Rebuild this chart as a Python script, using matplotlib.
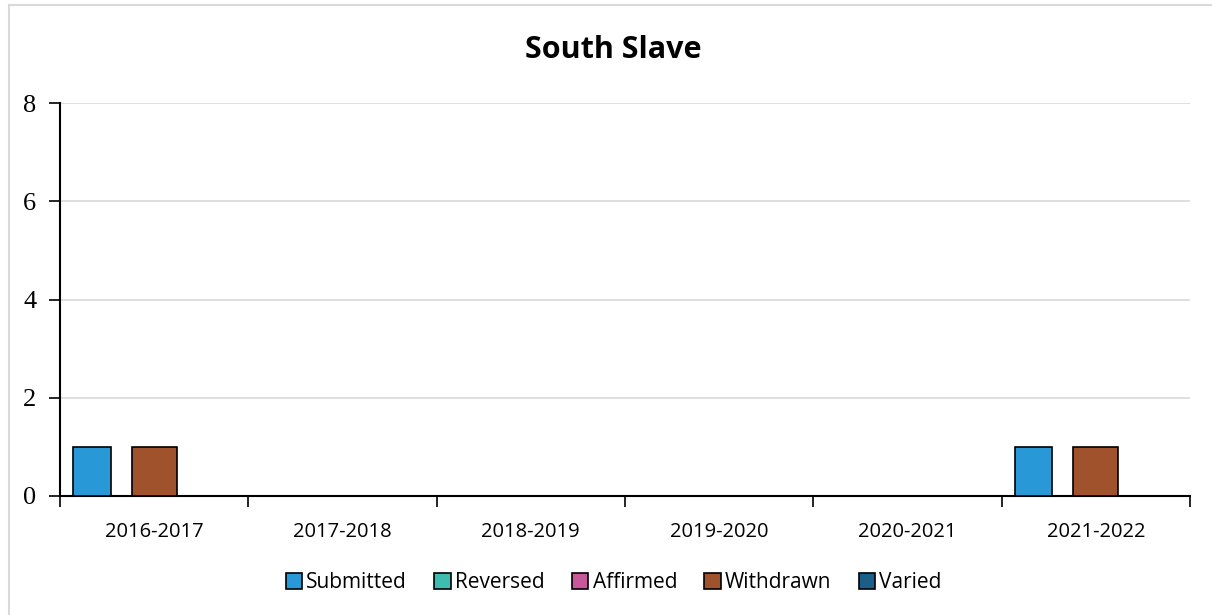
import matplotlib.pyplot as plt
from matplotlib.lines import Line2D
import numpy as np

years = ['2016-2017', '2017-2018', '2018-2019', '2019-2020', '2020-2021', '2021-2022']
series = ['Submitted', 'Reversed', 'Affirmed', 'Withdrawn', 'Varied']
submitted = [1, 0, 0, 0, 0, 1]
reversed_ = [0, 0, 0, 0, 0, 0]
affirmed = [0, 0, 0, 0, 0, 0]
withdrawn = [1, 0, 0, 0, 0, 1]
varied = [0, 0, 0, 0, 0, 0]

colors = ['#2899d6', '#3dbdb0', '#c9589a', '#a0522d', '#1a5e8a']
offsets = [-0.33, -0.22, -0.11, 0.0, 0.11]
widths = [0.20, 0.20, 0.20, 0.24, 0.20]

fig = plt.figure(figsize=(12.12, 6.15), dpi=100)
ax = fig.add_axes([0.0495, 0.1935, 0.9323, 0.639])

# chart frame: only the top and left edges fall inside the image
fx, fy = 8.5 / 1212, 1 - 5 / 615
fig.add_artist(Line2D([fx, 1], [fy, fy], transform=fig.transFigure, color='#d9d9d9', lw=1.5))
fig.add_artist(Line2D([fx, fx], [0, fy], transform=fig.transFigure, color='#d9d9d9', lw=1.5))

x = np.arange(len(years))
for vals, name, c, off, w in zip([submitted, reversed_, affirmed, withdrawn, varied],
                                 series, colors, offsets, widths):
    v = np.array(vals, dtype=float)
    mask = v > 0
    ax.bar(x[mask] + off, v[mask], width=w, color=c, edgecolor='black', linewidth=1.2,
           zorder=3)
    ax.bar([np.nan], [0], color=c, edgecolor='black', linewidth=1.2, label=name)

ax.set_xlim(-0.5, len(years) - 0.5)
ax.set_ylim(0, 8)
ax.set_yticks([0, 2, 4, 6, 8])
ax.yaxis.grid(True, color='#d9d9d9', linewidth=1.2, zorder=0)
ax.set_axisbelow(True)

ax.set_xticks(x)
ax.set_xticklabels(years, fontsize=14.5, fontfamily='Open Sans')
ax.set_xticks(np.arange(len(years) + 1) - 0.5, minor=True)
ax.tick_params(axis='x', which='major', length=0, pad=19)
ax.tick_params(axis='x', which='minor', length=8, width=1.2, direction='out')
ax.tick_params(axis='y', length=8, width=1.2, direction='out', pad=9)
for lab in ax.get_yticklabels():
    lab.set_fontfamily('Liberation Serif')
    lab.set_fontsize(19)

for s in ['top', 'right']:
    ax.spines[s].set_visible(False)
ax.spines['left'].set_linewidth(1.5)
ax.spines['bottom'].set_linewidth(1.5)

fig.text(0.506, 1 - 50 / 615, 'South Slave', ha='center', va='center',
         fontsize=22, fontweight='bold', fontfamily='Open Sans')

ax.legend(loc='center', bbox_to_anchor=(0.49, (615 - 583 - 119) / 393), ncol=5, frameon=False,
          prop={'family': 'Open Sans', 'size': 15}, handlelength=0.8, handleheight=0.8,
          handletextpad=0.2, columnspacing=1.3)

fig.savefig('out.png', dpi=100)
